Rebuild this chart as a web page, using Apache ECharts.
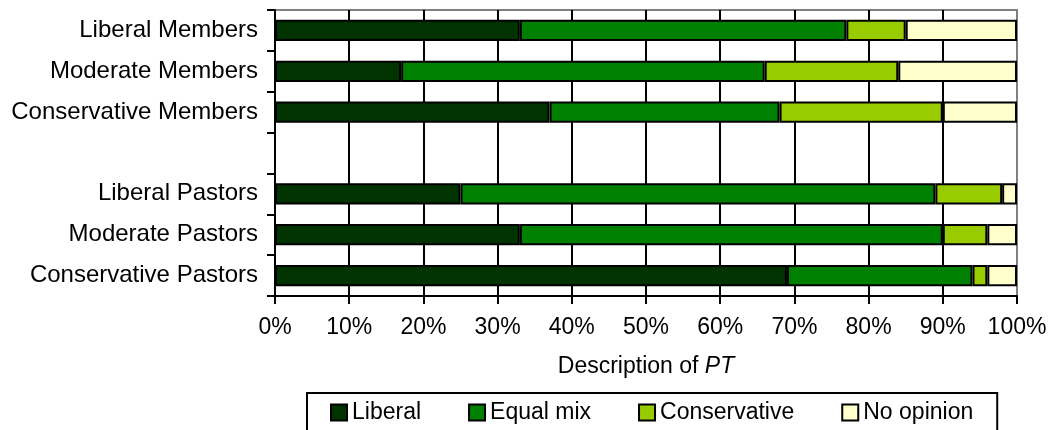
<!DOCTYPE html>
<html>
<head>
<meta charset="utf-8">
<script src="https://cdn.jsdelivr.net/npm/echarts@6/dist/echarts.min.js"></script>
<style>
html,body{margin:0;padding:0;background:#fff;}
#chart{width:1052px;height:430px;}
</style>
</head>
<body>
<div id="chart"></div>
<script>
const categories = ['Liberal Members','Moderate Members','Conservative Members','','Liberal Pastors','Moderate Pastors','Conservative Pastors'];
const liberal      = [33, 17, 37, null, 25, 33, 69];
const equalMix     = [44, 49, 31, null, 64, 57, 25];
const conservative = [ 8, 18, 22, null,  9,  6,  2];
const noOpinion    = [15, 16, 10, null,  2,  4,  4];
const seriesNames = ['Liberal','Equal mix','Conservative','No opinion'];
const xTicks = [0,10,20,30,40,50,60,70,80,90,100];

const colors = ['#003300','#008000','#99CC00','#FFFFCC'];
const font = "'Liberation Sans', Arial, sans-serif";
const chart = echarts.init(document.getElementById('chart'));
const dataSets = [liberal, equalMix, conservative, noOpinion];
const splitColors = xTicks.map((t,i)=> i===xTicks.length-1 ? '#808080' : '#000');

chart.setOption({
  animation:false,
  textStyle:{fontFamily:font,color:'#000'},
  grid:{left:275,right:35,top:10,bottom:134,show:true,borderColor:'#808080',borderWidth:2},
  xAxis:{
    type:'value',min:0,max:100,interval:10,
    axisLine:{show:true,lineStyle:{color:'#000',width:2}},
    axisTick:{show:true,length:8,lineStyle:{color:'#000',width:2}},
    axisLabel:{formatter:'{value}%',fontSize:23,color:'#000',margin:20,fontFamily:font},
    splitLine:{show:true,lineStyle:{color:splitColors,width:2}},
    name:'Description of {i|PT}',nameLocation:'middle',nameGap:59,
    nameTextStyle:{fontSize:23,color:'#000',fontFamily:font,rich:{i:{fontStyle:'italic',fontSize:23,fontFamily:font,color:'#000'}}}
  },
  yAxis:{
    type:'category',inverse:true,data:categories,
    axisLine:{show:true,lineStyle:{color:'#000',width:2}},
    axisTick:{show:true,length:8,lineStyle:{color:'#000',width:2}},
    axisLabel:{fontSize:24,color:'#000',margin:17,fontFamily:font},
    splitLine:{show:false}
  },
  legend:{
    left:307,top:393,orient:'horizontal',
    data:seriesNames,
    icon:'rect',itemWidth:16,itemHeight:16,itemGap:47,
    padding:[8,24,8,23],
    borderColor:'#000',borderWidth:2,
    itemStyle:{borderColor:'#000',borderWidth:2},
    textStyle:{fontSize:23,color:'#000',fontFamily:font,padding:[0,0,0,0]}
  },
  series: seriesNames.map((n,i)=>({
    name:n,type:'bar',stack:'total',barCategoryGap:'48%',
    data:dataSets[i],
    itemStyle:{color:colors[i],borderColor:'#000',borderWidth:2}
  }))
});
</script>
</body>
</html>
